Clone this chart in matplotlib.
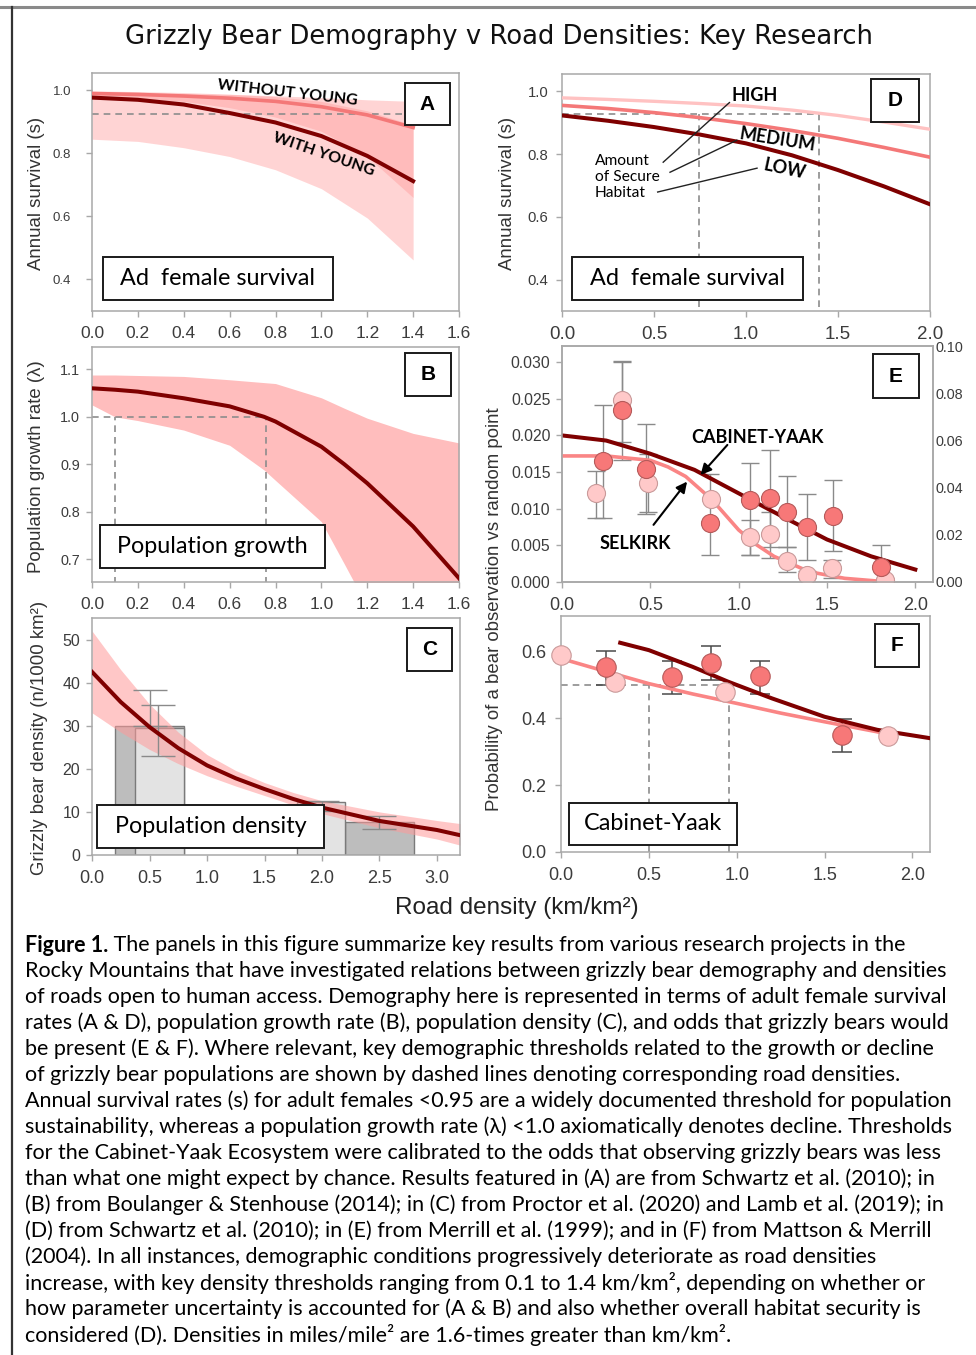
import numpy as np
import matplotlib
matplotlib.use("Agg")
import matplotlib.pyplot as plt
from matplotlib.patches import Rectangle
from matplotlib.lines import Line2D
from matplotlib.ticker import FormatStrFormatter

plt.rcParams['font.family'] = ['Liberation Sans', 'DejaVu Sans']

# ---------------- data ----------------
# A: adult female survival vs road density (Schwartz et al. 2010)
a_x = [0.0, 0.2, 0.4, 0.6, 0.8, 1.0, 1.2, 1.4]
a_with = [0.977, 0.970, 0.955, 0.928, 0.898, 0.855, 0.792, 0.712]
a_without = [0.990, 0.987, 0.982, 0.975, 0.965, 0.948, 0.922, 0.882]
a_with_lo = [0.845, 0.838, 0.818, 0.790, 0.748, 0.688, 0.595, 0.462]
a_with_hi = [0.993, 0.992, 0.990, 0.987, 0.983, 0.977, 0.970, 0.965]
a_wo_lo = [0.980, 0.975, 0.965, 0.945, 0.915, 0.870, 0.790, 0.660]
a_wo_hi = [0.998, 0.996, 0.993, 0.988, 0.980, 0.965, 0.935, 0.890]
a_thr_x = [0.0, 1.4]
a_thr_y = 0.925

# B: population growth rate
b_x = [0.0, 0.1, 0.2, 0.4, 0.6, 0.75, 0.8, 1.0, 1.1, 1.2, 1.4, 1.6]
b_lam = [1.060, 1.057, 1.053, 1.039, 1.022, 1.000, 0.990, 0.937, 0.900, 0.860, 0.769, 0.660]
b_hi = [1.088, 1.088, 1.087, 1.085, 1.078, 1.072, 1.070, 1.040, 1.018, 0.997, 0.965, 0.945]
b_lo = [1.025, 1.000, 0.992, 0.972, 0.940, 0.888, 0.866, 0.779, 0.690, 0.600, 0.450, 0.300]
b_thr_x = [0.1, 0.76]
b_thr_y = 1.0

# C: population density
c_x = [0.0, 0.25, 0.5, 0.75, 1.0, 1.25, 1.5, 1.75, 2.0, 2.5, 3.0, 3.2]
c_dens = [42.5, 35.5, 29.7, 24.8, 20.8, 17.8, 15.3, 13.0, 11.0, 7.9, 5.8, 4.6]
c_hi = [52.0, 43.0, 35.0, 28.5, 23.3, 19.6, 16.8, 14.5, 12.6, 10.0, 8.0, 7.3]
c_lo = [33.0, 28.5, 24.5, 21.2, 18.4, 16.0, 13.8, 11.6, 9.6, 6.3, 3.7, 2.3]
c_bar1_left = [0.2, 2.2]
c_bar1_width = [0.6, 0.6]
c_bar1_h = [30.0, 7.7]
c_bar1_err_x = [0.5, 2.5]
c_bar1_err_lo = [30.0, 6.1]
c_bar1_err_hi = [38.2, 9.1]
c_bar2_left = [0.37, 1.78]
c_bar2_width = [0.43, 0.42]
c_bar2_h = [29.5, 12.3]
c_bar2_err_x = [0.57, 2.0]
c_bar2_err_lo = [23.0, 10.3]
c_bar2_err_hi = [34.7, 12.5]

# D: survival by amount of secure habitat
d_x = [0.0, 0.25, 0.5, 0.75, 1.0, 1.25, 1.5, 1.75, 2.0]
d_high = [0.979, 0.974, 0.968, 0.961, 0.953, 0.940, 0.923, 0.902, 0.879]
d_med = [0.955, 0.945, 0.932, 0.916, 0.897, 0.875, 0.850, 0.821, 0.790]
d_low = [0.923, 0.906, 0.886, 0.862, 0.834, 0.796, 0.749, 0.697, 0.640]
d_thr_x = [0.745, 1.397]
d_thr_y = 0.927

# E: probability of observation (Merrill et al. 1999)
e_cy_cx = [0.0, 0.25, 0.5, 0.75, 1.0, 1.25, 1.5, 1.75, 2.0]
e_cy_curve = [0.0200, 0.0193, 0.0175, 0.0153, 0.0121, 0.0089, 0.0058, 0.0035, 0.0017]
e_sk_cx = [0.0, 0.25, 0.5, 0.6, 0.7, 0.85, 1.0, 1.1, 1.2, 1.4, 1.6, 1.8, 1.87]
e_sk_curve = [0.0172, 0.0172, 0.0166, 0.0157, 0.0144, 0.0112, 0.0071, 0.0051, 0.0035,
              0.0014, 0.0005, 0.0001, 0.0]
e_cy_x = [0.233, 0.337, 0.473, 0.839, 1.066, 1.176, 1.275, 1.388, 1.534, 1.805]
e_cy_y = [0.0165, 0.0234, 0.0154, 0.0081, 0.0112, 0.0114, 0.0096, 0.0075, 0.0090, 0.0021]
e_cy_lo = [0.0087, 0.0166, 0.0093, 0.0037, 0.0037, 0.0048, 0.0048, 0.0030, 0.0042, 0.0000]
e_cy_hi = [0.0241, 0.0301, 0.0215, 0.0148, 0.0162, 0.0180, 0.0144, 0.0120, 0.0139, 0.0051]
e_sk_x = [0.195, 0.337, 0.489, 0.845, 1.066, 1.176, 1.271, 1.388, 1.530, 1.830]
e_sk_y = [0.0121, 0.0248, 0.0135, 0.0113, 0.0061, 0.0066, 0.0029, 0.0010, 0.0019, 0.0003]
e_sk_lo = [0.0088, 0.0191, 0.0096, 0.0113, 0.0037, 0.0033, 0.0013, 0.0005, 0.0006, 0.0000]
e_sk_hi = [0.0152, 0.0300, 0.0174, 0.0113, 0.0084, 0.0095, 0.0048, 0.0015, 0.0030, 0.0005]

# F: Cabinet-Yaak (Mattson & Merrill 2004)
f_dark_x = [0.337, 0.5, 0.75, 0.95, 1.2, 1.5, 1.8, 2.1]
f_dark = [0.625, 0.603, 0.553, 0.509, 0.459, 0.404, 0.365, 0.340]
f_light_x = [0.0, 0.25, 0.5, 0.75, 1.0, 1.25, 1.5, 1.8, 1.9]
f_light = [0.578, 0.540, 0.503, 0.472, 0.444, 0.415, 0.389, 0.359, 0.346]
f_cy_x = [0.257, 0.631, 0.856, 1.131, 1.600]
f_cy_y = [0.553, 0.523, 0.565, 0.525, 0.350]
f_cy_lo = [0.500, 0.471, 0.514, 0.471, 0.300]
f_cy_hi = [0.601, 0.570, 0.615, 0.571, 0.397]
f_sk_x = [0.0, 0.308, 0.932, 1.861]
f_sk_y = [0.588, 0.507, 0.479, 0.347]
f_thr_x = [0.5, 0.958]
f_thr_y = 0.5

caption = [
    "The panels in this figure summarize key results from various research projects in the",
    "Rocky Mountains that have investigated relations between grizzly bear demography and densities",
    "of roads open to human access. Demography here is represented in terms of adult female survival",
    "rates (A & D), population growth rate (B), population density (C), and odds that grizzly bears would",
    "be present (E & F). Where relevant, key demographic thresholds related to the growth or decline",
    "of grizzly bear populations are shown by dashed lines denoting corresponding road densities.",
    "Annual survival rates (s) for adult females <0.95 are a widely documented threshold for population",
    "sustainability, whereas a population growth rate (\u03bb) <1.0 axiomatically denotes decline. Thresholds",
    "for the Cabinet-Yaak Ecosystem were calibrated to the odds that observing grizzly bears was less",
    "than what one might expect by chance. Results featured in (A) are from Schwartz et al. (2010); in",
    "(B) from Boulanger & Stenhouse (2014); in (C) from Proctor et al. (2020) and Lamb et al. (2019); in",
    "(D) from Schwartz et al. (2010); in (E) from Merrill et al. (1999); and in (F) from Mattson & Merrill",
    "(2004). In all instances, demographic conditions progressively deteriorate as road densities",
    "increase, with key density thresholds ranging from 0.1 to 1.4 km/km\u00b2, depending on whether or",
    "how parameter uncertainty is accounted for (A & B) and also whether overall habitat security is",
    "considered (D). Densities in miles/mile\u00b2 are 1.6-times greater than km/km\u00b2.",
]

# ---------------- styling ----------------
DARK = '#7f0000'
SALMON = '#f47878'
PINK = '#ffbdbd'
BAND = '#ff9a9a'
SPINE = '#a8a8a8'
TICK = '#3c3c3c'
DASH = '#8c8c8c'
CAPFONT = 'Lato'

W, H = 976, 1355
fig = plt.figure(figsize=(W / 100, H / 100), dpi=100)


def fx(px):
    return px / W


def fy(py):
    return 1 - py / H


def make_ax(l, t, r, b):
    return fig.add_axes([fx(l), fy(b), (r - l) / W, (b - t) / H])


def style(ax, xsize, ysize, ypad):
    for s in ax.spines.values():
        s.set_color(SPINE)
        s.set_linewidth(1.1)
    ax.tick_params(direction='out', length=4, width=1, color=SPINE, labelcolor=TICK)
    ax.tick_params(axis='x', labelsize=xsize, pad=7)
    ax.tick_params(axis='y', labelsize=ysize, pad=ypad)
    ax.xaxis.set_major_formatter(FormatStrFormatter('%.1f'))


def box(x0, y0, x1, y1, text, size, bold=False, family=CAPFONT):
    fig.add_artist(Rectangle((fx(x0), fy(y1)), (x1 - x0) / W, (y1 - y0) / H,
                             transform=fig.transFigure, facecolor='white',
                             edgecolor='#1a1a1a', linewidth=1.4, zorder=5))
    fig.text(fx((x0 + x1) / 2), fy((y0 + y1) / 2), text, ha='center', va='center',
             fontsize=size, fontweight='bold' if bold else 'normal',
             family=family, zorder=6)


def dashed(ax, xs, ys):
    ax.plot(xs, ys, color=DASH, lw=1.2, dashes=(4, 3), zorder=2)


LBL = dict(ha='center', va='center', fontweight='bold', family=CAPFONT, zorder=6)

# ---------------- panel A ----------------
axA = make_ax(92, 73, 459, 311)
axA.fill_between(a_x, a_with_lo, a_with_hi, color=BAND, alpha=0.42, lw=0, zorder=1)
axA.fill_between(a_x, a_wo_lo, a_wo_hi, color=BAND, alpha=0.42, lw=0, zorder=1)
dashed(axA, a_thr_x, [a_thr_y, a_thr_y])
axA.plot(a_x, a_without, color=SALMON, lw=2.6, zorder=3)
axA.plot(a_x, a_with, color=DARK, lw=2.9, zorder=3)
axA.set_xlim(0, 1.6)
axA.set_ylim(0.3, 1.055)
axA.set_xticks(np.arange(0, 1.61, 0.2))
axA.set_yticks([0.4, 0.6, 0.8, 1.0])
axA.yaxis.set_major_formatter(FormatStrFormatter('%.1f'))
style(axA, 12.5, 9.5, 11)
axA.text(0.85, 0.99, 'WITHOUT YOUNG', rotation=-6.5, fontsize=11.5, **LBL)
axA.text(1.01, 0.795, 'WITH YOUNG', rotation=-19, fontsize=11.5, **LBL)

# ---------------- panel B ----------------
axB = make_ax(92, 347, 459, 582)
axB.fill_between(b_x, b_lo, b_hi, color=PINK, lw=0, zorder=1)
dashed(axB, [0, b_thr_x[1]], [b_thr_y, b_thr_y])
for xv in b_thr_x:
    dashed(axB, [xv, xv], [0.6, b_thr_y])
axB.plot(b_x, b_lam, color=DARK, lw=2.9, zorder=3)
axB.set_xlim(0, 1.6)
axB.set_ylim(0.652, 1.147)
axB.set_xticks(np.arange(0, 1.61, 0.2))
axB.set_yticks([0.7, 0.8, 0.9, 1.0, 1.1])
axB.yaxis.set_major_formatter(FormatStrFormatter('%.1f'))
style(axB, 12.5, 10.4, 4.5)

# ---------------- panel C ----------------
axC = make_ax(92, 618, 460, 855)
axC.bar(c_bar1_left, c_bar1_h, width=c_bar1_width, align='edge', color='#bdbdbd',
        edgecolor='#7a7a7a', lw=1, zorder=1)
axC.bar(c_bar2_left, c_bar2_h, width=c_bar2_width, align='edge', color='#e3e3e3',
        edgecolor='#7a7a7a', lw=1, zorder=1)
axC.fill_between(c_x, c_lo, c_hi, color=BAND, alpha=0.55, lw=0, zorder=2)
for ex, lo, hi in [(c_bar1_err_x, c_bar1_err_lo, c_bar1_err_hi),
                   (c_bar2_err_x, c_bar2_err_lo, c_bar2_err_hi)]:
    mid = [(l + h) / 2 for l, h in zip(lo, hi)]
    half = [(h - l) / 2 for l, h in zip(lo, hi)]
    axC.errorbar(ex, mid, yerr=half, fmt='none', ecolor='#8a8a8a', elinewidth=1,
                 capsize=12, capthick=1, zorder=3)
axC.plot(c_x, c_dens, color=DARK, lw=2.9, zorder=4)
axC.set_xlim(0, 3.2)
axC.set_ylim(0, 55)
axC.set_xticks(np.arange(0, 3.01, 0.5))
axC.set_yticks(np.arange(0, 51, 10))
style(axC, 13, 11.5, 4.5)

# ---------------- panel D ----------------
axD = make_ax(562, 74, 930, 311)
dashed(axD, [0, d_thr_x[1]], [d_thr_y, d_thr_y])
for xv in d_thr_x:
    dashed(axD, [xv, xv], [0.2, d_thr_y])
axD.plot(d_x, d_high, color='#ffc2c2', lw=2.4, zorder=3)
axD.plot(d_x, d_med, color=SALMON, lw=2.6, zorder=3)
axD.plot(d_x, d_low, color=DARK, lw=2.9, zorder=3)
axD.set_xlim(0, 2.0)
axD.set_ylim(0.3, 1.055)
axD.set_xticks(np.arange(0, 2.01, 0.5))
axD.set_yticks([0.4, 0.6, 0.8, 1.0])
axD.yaxis.set_major_formatter(FormatStrFormatter('%.1f'))
style(axD, 13.5, 10.7, 5.8)
axD.text(1.049, 0.986, 'HIGH', fontsize=13, **LBL)
axD.text(1.17, 0.847, 'MEDIUM', rotation=-9, fontsize=13, **LBL)
axD.text(1.207, 0.752, 'LOW', rotation=-12, fontsize=13, **LBL)
axD.text(0.18, 0.727, 'Amount\nof Secure\nHabitat', ha='left', va='center',
         fontsize=11.2, family=CAPFONT, linespacing=1.2, zorder=4)
for (x0, y0), (x1, y1) in [((0.55, 0.774), (0.91, 0.964)),
                           ((0.587, 0.742), (0.95, 0.844)),
                           ((0.52, 0.679), (1.06, 0.755))]:
    axD.plot([x0, x1], [y0, y1], color='#222222', lw=1, zorder=3)

# ---------------- panel E ----------------
axE = make_ax(562, 346, 933, 582)
axE.errorbar(e_sk_x, e_sk_y,
             yerr=[np.subtract(e_sk_y, e_sk_lo), np.subtract(e_sk_hi, e_sk_y)],
             fmt='none', ecolor='#8a8a8a', elinewidth=1, capsize=6.5, capthick=1, zorder=2)
axE.errorbar(e_cy_x, e_cy_y,
             yerr=[np.subtract(e_cy_y, e_cy_lo), np.subtract(e_cy_hi, e_cy_y)],
             fmt='none', ecolor='#8a8a8a', elinewidth=1, capsize=6.5, capthick=1, zorder=2)
axE.plot(e_sk_cx, e_sk_curve, color='#fa8585', lw=2.6, zorder=3)
axE.plot(e_cy_cx, e_cy_curve, color=DARK, lw=2.9, zorder=3)
axE.plot(e_sk_x, e_sk_y, 'o', ms=13, mfc='#ffc9c9', mec='#c99a9a', mew=0.8, zorder=4)
axE.plot(e_cy_x, e_cy_y, 'o', ms=13, mfc='#f77878', mec='#b55a5a', mew=0.8, zorder=5)
axE.set_xlim(0, 2.1)
axE.set_ylim(0, 0.0322)
axE.set_xticks(np.arange(0, 2.01, 0.5))
axE.set_yticks(np.arange(0, 0.0301, 0.005))
axE.yaxis.set_major_formatter(FormatStrFormatter('%.3f'))
style(axE, 13, 11.3, 4.3)
axE.text(1.106, 0.0197, 'CABINET-YAAK', fontsize=13, **LBL)
axE.text(0.415, 0.0053, 'SELKIRK', fontsize=13, **LBL)
arrow = dict(arrowstyle='-|>', color='black', lw=1.5, mutation_scale=16,
             shrinkA=0, shrinkB=0)
axE.annotate('', xy=(0.784, 0.0146), xytext=(0.936, 0.0187), arrowprops=arrow, zorder=6)
axE.annotate('', xy=(0.708, 0.0137), xytext=(0.518, 0.0078), arrowprops=arrow, zorder=6)
axE2 = axE.twinx()
axE2.set_ylim(0, 0.10)
axE2.set_yticks(np.arange(0, 0.101, 0.02))
axE2.yaxis.set_major_formatter(FormatStrFormatter('%.2f'))
for s in axE2.spines.values():
    s.set_color(SPINE)
    s.set_linewidth(1.1)
axE2.tick_params(axis='y', length=0, pad=2, labelsize=10.4, labelcolor=TICK)

# ---------------- panel F ----------------
axF = make_ax(561, 616, 930, 852)
dashed(axF, [0, f_thr_x[1]], [f_thr_y, f_thr_y])
for xv in f_thr_x:
    dashed(axF, [xv, xv], [0, f_thr_y])
axF.errorbar(f_cy_x, f_cy_y,
             yerr=[np.subtract(f_cy_y, f_cy_lo), np.subtract(f_cy_hi, f_cy_y)],
             fmt='none', ecolor='#4a4a4a', elinewidth=1.1, capsize=7, capthick=1.1, zorder=2)
axF.plot(f_light_x, f_light, color='#fa8585', lw=2.6, zorder=3)
axF.plot(f_dark_x, f_dark, color=DARK, lw=2.9, zorder=3)
axF.plot(f_sk_x, f_sk_y, 'o', ms=14, mfc='#ffc9c9', mec='#c99a9a', mew=0.8,
         zorder=4, clip_on=False)
axF.plot(f_cy_x, f_cy_y, 'o', ms=14, mfc='#f77878', mec='#b55a5a', mew=0.8, zorder=5)
axF.set_xlim(0, 2.1)
axF.set_ylim(0, 0.705)
axF.set_xticks(np.arange(0, 2.01, 0.5))
axF.set_yticks([0.0, 0.2, 0.4, 0.6])
axF.yaxis.set_major_formatter(FormatStrFormatter('%.1f'))
style(axF, 13, 13, 6.5)

# ---------------- boxes ----------------
box(405, 83, 450, 125, 'A', 15, bold=True, family='Liberation Sans')
box(405, 353, 451, 396, 'B', 15, bold=True, family='Liberation Sans')
box(407, 628, 452, 671, 'C', 15, bold=True, family='Liberation Sans')
box(871, 79, 919, 122, 'D', 15, bold=True, family='Liberation Sans')
box(873, 354, 919, 398, 'E', 15, bold=True, family='Liberation Sans')
box(875, 624, 919, 667, 'F', 15, bold=True, family='Liberation Sans')
box(103, 257, 333, 300, 'Ad  female survival', 16.8)
box(572, 257, 803, 300, 'Ad  female survival', 16.8)
box(100, 525, 325, 568, 'Population growth', 16.8)
box(97, 805, 324, 848, 'Population density', 16.8)
box(569, 803, 737, 845, 'Cabinet-Yaak', 16.8)

# ---------------- axis titles ----------------
ylab = dict(rotation=90, ha='center', va='center', fontsize=13.4, color='#333333')
fig.text(fx(37), fy(193), 'Annual survival (s)', **ylab)
fig.text(fx(508), fy(193), 'Annual survival (s)', **ylab)
fig.text(fx(37), fy(467), 'Population growth rate (\u03bb)', **ylab)
fig.text(fx(40), fy(738), 'Grizzly bear density (n/1000 km\u00b2)', **ylab)
fig.text(fx(494), fy(609), 'Probability of a bear observation vs random point', **ylab)
fig.text(fx(517), fy(908), 'Road density (km/km\u00b2)', ha='center', va='center',
         fontsize=17.5, color='#222222')
fig.text(fx(499), fy(37), 'Grizzly Bear Demography v Road Densities: Key Research',
         ha='center', va='center', fontsize=18.6, family='DejaVu Sans', color='#111111')

# ---------------- caption ----------------
renderer = fig.canvas.get_renderer()
cap_size = 15.5
head = fig.text(fx(25), fy(945), 'Figure 1.', ha='left', va='center', fontsize=cap_size,
                fontweight='bold', family=CAPFONT)
bb = head.get_window_extent(renderer=renderer)
for i, line in enumerate(caption):
    if i == 0:
        fig.text(bb.x1 / W, fy(945), ' ' + line, ha='left', va='center',
                 fontsize=cap_size, family=CAPFONT)
    else:
        fig.text(fx(25), fy(945 + 26 * i), line, ha='left', va='center',
                 fontsize=cap_size, family=CAPFONT)

# ---------------- outer frame ----------------
fig.add_artist(Line2D([0, 1], [fy(7), fy(7)], transform=fig.transFigure,
                      color='#8a8a8a', lw=2.2))
fig.add_artist(Line2D([fx(12), fx(12)], [0, fy(7)], transform=fig.transFigure,
                      color='#333333', lw=1.6))

fig.savefig('out.png', dpi=100)
